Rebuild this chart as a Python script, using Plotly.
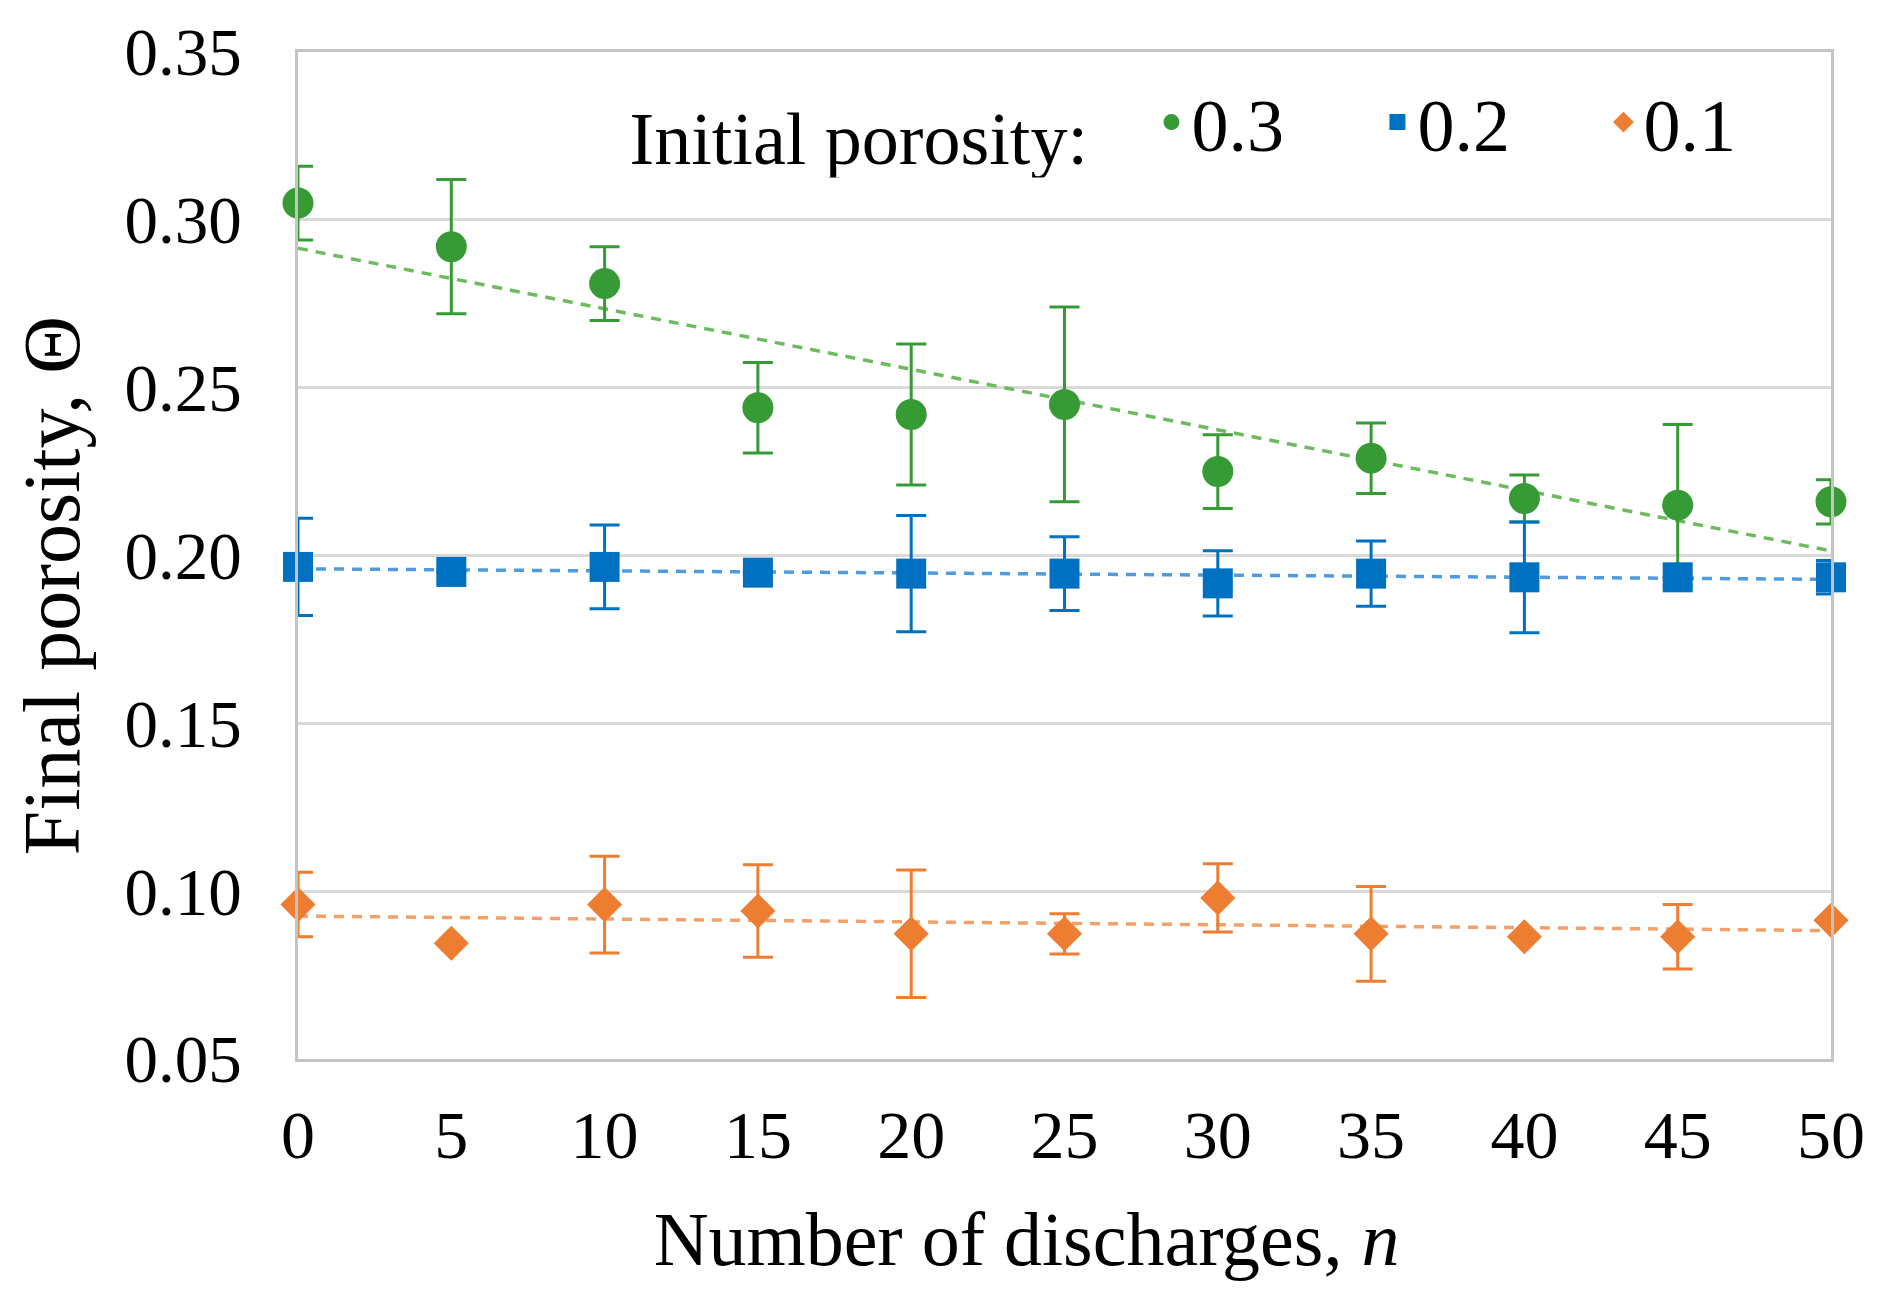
import numpy as np
import plotly.graph_objects as go

# ---- data ----
n_discharges = [0, 5, 10, 15, 20, 25, 30, 35, 40, 45, 50]

por_03 = [0.305, 0.292, 0.281, 0.244, 0.242, 0.245, 0.225, 0.229, 0.217, 0.215, 0.216]
err_03 = [0.011, 0.020, 0.011, 0.0135, 0.021, 0.029, 0.011, 0.0105, 0.007, 0.024, 0.0066]

por_02 = [0.1966, 0.1951, 0.1966, 0.1949, 0.1946, 0.1946, 0.1917, 0.1946, 0.1935, 0.1935, 0.1935]
err_02 = [0.0145, 0.0, 0.0125, 0.0, 0.0173, 0.011, 0.0097, 0.0097, 0.0165, 0.0, 0.005]

por_01 = [0.096, 0.0845, 0.096, 0.0941, 0.0873, 0.0873, 0.098, 0.0873, 0.0864, 0.0864, 0.0913]
err_01 = [0.0096, 0.0, 0.0144, 0.0138, 0.019, 0.006, 0.0102, 0.0141, 0.0, 0.0096, 0.0]

series_names = ["0.3", "0.2", "0.1"]
x_tick_vals = [0, 5, 10, 15, 20, 25, 30, 35, 40, 45, 50]
y_tick_vals = [0.05, 0.10, 0.15, 0.20, 0.25, 0.30, 0.35]

# ---- styles ----
FONT = "Liberation Serif"
NBSP = "&nbsp;"
series = [
    dict(y=por_03, e=err_03, name=series_names[0], color="#379B35", trend="#6DBB5E",
         symbol="circle", size=31),
    dict(y=por_02, e=err_02, name=series_names[1], color="#0070C0", trend="#4F9BDB",
         symbol="square", size=30),
    dict(y=por_01, e=err_01, name=series_names[2], color="#ED7D31", trend="#F3A06A",
         symbol="diamond", size=27),
]

fig = go.Figure()

# linear trendlines (least squares fit of each series)
for s in series:
    slope, intercept = np.polyfit(n_discharges, s["y"], 1)
    xs = [min(n_discharges), max(n_discharges)]
    ys = [intercept + slope * x for x in xs]
    fig.add_trace(go.Scatter(
        x=xs, y=ys, mode="lines", showlegend=False, hoverinfo="skip",
        line=dict(color=s["trend"], width=3.5, dash="10px,8px"),
        cliponaxis=False,
    ))

for s in series:
    fig.add_trace(go.Scatter(
        x=n_discharges, y=s["y"], mode="markers", name=s["name"],
        marker=dict(symbol=s["symbol"], size=s["size"], color=s["color"],
                    line=dict(width=0)),
        error_y=dict(type="data", array=s["e"], visible=True,
                     color=s["color"], thickness=3, width=15),
        cliponaxis=False,
    ))

fig.update_layout(
    width=1891, height=1302,
    paper_bgcolor="white", plot_bgcolor="white",
    margin=dict(l=290, r=68, t=44, b=251),
    font=dict(family=FONT, size=66, color="#000000"),
    showlegend=True,
    legend=dict(
        orientation="h", x=0.215, y=0.93, xanchor="left", yanchor="middle",
        bgcolor="rgba(0,0,0,0)",
        title=dict(text="Initial porosity:" + NBSP * 3, side="left",
                   font=dict(family=FONT, size=74, color="#000000")),
        font=dict(family=FONT, size=74, color="#000000"),
        itemsizing="trace",
        entrywidth=181,
        traceorder="normal",
    ),
    xaxis=dict(
        range=[0, 50], tickvals=x_tick_vals, automargin=False,
        showgrid=False, zeroline=False,
        showline=True, mirror=True, linecolor="#C4C4C4", linewidth=2.5,
        ticks="", ticklabelstandoff=15, ticklabeloverflow="allow",
        tickfont=dict(family=FONT, size=68, color="#000000"),
        title=dict(text="Number of discharges, <i>n</i>" + NBSP * 4, standoff=40,
                   font=dict(family=FONT, size=76, color="#000000")),
    ),
    yaxis=dict(
        range=[0.05, 0.35], tickvals=y_tick_vals, tickformat=".2f", automargin=False,
        showgrid=True, gridcolor="#D9D9D9", gridwidth=2.5, zeroline=False,
        showline=True, mirror=True, linecolor="#C4C4C4", linewidth=2.5,
        ticks="", ticklabelstandoff=40, ticklabeloverflow="allow",
        tickfont=dict(family=FONT, size=67, color="#000000"),
        title=dict(text="Final porosity, Θ" + NBSP * 3, standoff=25,
                   font=dict(family=FONT, size=80, color="#000000")),
    ),
)

fig.write_html("out.html")
